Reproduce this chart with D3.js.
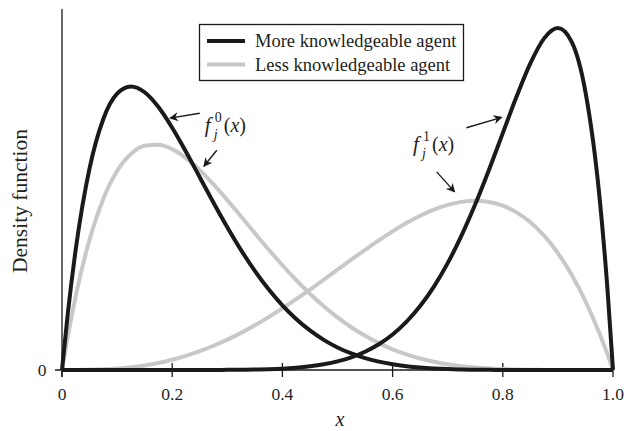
<!DOCTYPE html>
<html>
<head>
  <meta charset="UTF-8" />
  <title>Density functions</title>
  <script src="https://d3js.org/d3.v7.min.js"></script>
  <style>
    body { margin: 0; background: #fff; }
  </style>
</head>
<body>
<div id="chart"></div>

<script>
  // sample points along x
  var xs = [0, 0.01, 0.025, 0.05, 0.075, 0.1, 0.125, 0.15, 0.175, 0.2, 0.225, 0.25, 0.275, 0.3,
    0.325, 0.35, 0.375, 0.4, 0.425, 0.45, 0.475, 0.5, 0.525, 0.55, 0.575, 0.6, 0.625, 0.65,
    0.675, 0.7, 0.725, 0.75, 0.775, 0.8, 0.825, 0.85, 0.875, 0.9, 0.925, 0.95, 0.975, 0.99, 1];

  // more knowledgeable agent, f0 and f1
  var moreF0 = [0, 0.671, 1.508, 2.514, 3.129, 3.444, 3.534, 3.462, 3.278, 3.020, 2.721, 2.403, 2.085, 1.779,
    1.494, 1.235, 1.006, 0.806, 0.636, 0.493, 0.376, 0.281, 0.206, 0.148, 0.104, 0.071, 0.047, 0.030,
    0.019, 0.011, 0.006, 0.003, 0.002, 0.001, 0, 0, 0, 0, 0, 0, 0, 0, 0];
  var moreF1 = [0, 0, 0, 0, 0, 0, 0, 0, 0, 0, 0, 0, 0, 0.002,
    0.003, 0.006, 0.010, 0.017, 0.029, 0.046, 0.071, 0.107, 0.158, 0.228, 0.321, 0.443, 0.600, 0.797,
    1.040, 1.332, 1.675, 2.065, 2.496, 2.953, 3.408, 3.822, 4.134, 4.262, 4.090, 3.466, 2.190, 1.005, 0];

  // less knowledgeable agent, f0 and f1
  var lessF0 = [0, 0.399, 0.925, 1.625, 2.133, 2.480, 2.693, 2.795, 2.809, 2.753, 2.642, 2.492, 2.314, 2.118,
    1.913, 1.706, 1.502, 1.306, 1.122, 0.951, 0.796, 0.656, 0.533, 0.426, 0.335, 0.258, 0.195, 0.143,
    0.103, 0.071, 0.048, 0.031, 0.019, 0.011, 0.006, 0.003, 0.001, 0, 0, 0, 0, 0, 0];
  var lessF1 = [0, 0, 0, 0.002, 0.008, 0.018, 0.034, 0.057, 0.088, 0.128, 0.177, 0.234, 0.302, 0.378,
    0.463, 0.557, 0.659, 0.768, 0.883, 1.002, 1.125, 1.250, 1.375, 1.497, 1.616, 1.728, 1.831, 1.922,
    1.999, 2.058, 2.096, 2.109, 2.095, 2.048, 1.965, 1.842, 1.675, 1.458, 1.187, 0.857, 0.463, 0.194, 0];

  var xTicks = [0, 0.2, 0.4, 0.6, 0.8, 1.0];
  var xTickLabels = ["0", "0.2", "0.4", "0.6", "0.8", "1.0"];
  var legendLabels = ["More knowledgeable agent", "Less knowledgeable agent"];

  // arrows: [x1, y1, x2, y2] in data units, tip at x2,y2
  var arrows = [
    [0.250, 3.20, 0.196, 3.14],
    [0.281, 2.74, 0.2575, 2.54],
    [0.734, 3.02, 0.798, 3.15],
    [0.680, 2.47, 0.7126, 2.22]
  ];
  // function labels: superscript, x, y in data units
  var fLabels = [
    { sup: "0", x: 0.259, y: 2.97 },
    { sup: "1", x: 0.637, y: 2.73 }
  ];

  var black = "#1a1a1a";
  var grey = "#c8c8c8";
  var serif = "'Liberation Serif', 'DejaVu Serif', serif";

  var svg = d3.select("#chart")
    .append("svg")
    .attr("width", 634)
    .attr("height", 431)
    .attr("font-family", serif)
    .style("font-family", serif);

  var xScale = d3.scaleLinear().domain([0, 1]).range([62, 613]);
  var yScale = d3.scaleLinear().domain([0, 4.5]).range([370, 9]);

  // axes lines
  svg.append("line")
    .attr("x1", xScale(0)).attr("x2", xScale(0))
    .attr("y1", yScale(4.5)).attr("y2", yScale(0) + 7)
    .attr("stroke", black).attr("stroke-width", 1.3);
  svg.append("line")
    .attr("x1", xScale(0) - 7).attr("x2", xScale(1))
    .attr("y1", yScale(0)).attr("y2", yScale(0))
    .attr("stroke", black).attr("stroke-width", 1.3);

  // x ticks cross the axis
  var xt = svg.append("g").selectAll("g")
    .data(xTicks)
    .enter()
    .append("g")
    .attr("transform", d => "translate(" + xScale(d) + "," + yScale(0) + ")");
  xt.append("line")
    .attr("y1", -7).attr("y2", 7)
    .attr("stroke", black).attr("stroke-width", 1.3);
  xt.append("text")
    .attr("y", 30)
    .attr("text-anchor", "middle")
    .attr("fill", "#231f20")
    .style("font-size", "17.5px")
    .text((d, i) => xTickLabels[i]);

  // y tick label
  svg.append("text")
    .attr("x", 42).attr("y", yScale(0))
    .attr("dy", "0.35em")
    .attr("text-anchor", "middle")
    .attr("fill", "#231f20")
    .style("font-size", "17.5px")
    .text("0");

  // axis titles
  svg.append("text")
    .attr("x", 340).attr("y", 426)
    .attr("text-anchor", "middle")
    .attr("fill", "#231f20")
    .style("font-size", "20px")
    .style("font-style", "italic")
    .text("x");
  svg.append("text")
    .attr("transform", "translate(27,201) rotate(-90)")
    .attr("text-anchor", "middle")
    .attr("fill", "#231f20")
    .style("font-size", "21.5px")
    .text("Density function");

  // curves, grey first so black sits on top
  var line = d3.line()
    .x((d, i) => xScale(xs[i]))
    .y(d => yScale(d))
    .curve(d3.curveMonotoneX);

  [[lessF0, grey], [lessF1, grey], [moreF0, black], [moreF1, black]].forEach(function (s) {
    svg.append("path")
      .datum(s[0])
      .attr("d", line)
      .attr("fill", "none")
      .attr("stroke", s[1])
      .attr("stroke-width", 4)
      .attr("stroke-linejoin", "round");
  });

  // legend
  var legend = svg.append("g");
  legend.append("rect")
    .attr("x", 199.5).attr("y", 24.5)
    .attr("width", 264).attr("height", 56)
    .attr("fill", "#fff")
    .attr("stroke", black).attr("stroke-width", 1.3);
  legendLabels.forEach(function (lab, i) {
    var ly = 41 + i * 23.5;
    legend.append("line")
      .attr("x1", 207).attr("x2", 245)
      .attr("y1", ly).attr("y2", ly)
      .attr("stroke", i == 0 ? black : grey)
      .attr("stroke-width", 4);
    legend.append("text")
      .attr("x", 255).attr("y", ly)
      .attr("dy", "0.35em")
      .attr("fill", "#231f20")
      .style("font-size", "18.5px")
      .text(lab);
  });

  // arrow head marker
  svg.append("defs").append("marker")
    .attr("id", "head")
    .attr("viewBox", "0 0 10 10")
    .attr("refX", 9).attr("refY", 5)
    .attr("markerWidth", 9).attr("markerHeight", 9)
    .attr("markerUnits", "userSpaceOnUse")
    .attr("orient", "auto")
    .append("path")
    .attr("d", "M0,0 L10,5 L0,10 L3,5 Z")
    .attr("fill", black);

  svg.selectAll(".arrow")
    .data(arrows)
    .enter()
    .append("line")
    .attr("class", "arrow")
    .attr("x1", d => xScale(d[0])).attr("y1", d => yScale(d[1]))
    .attr("x2", d => xScale(d[2])).attr("y2", d => yScale(d[3]))
    .attr("stroke", black).attr("stroke-width", 1.4)
    .attr("marker-end", "url(#head)");

  // f_j^k(x) labels
  fLabels.forEach(function (f) {
    var px = xScale(f.x), py = yScale(f.y);
    var g = svg.append("g").attr("transform", "translate(" + px + "," + py + ")").attr("fill", "#231f20");
    g.append("text").style("font-size", "21px").style("font-style", "italic").text("f");
    g.append("text").attr("x", 10).attr("y", -10).style("font-size", "14px").text(f.sup);
    g.append("text").attr("x", 9).attr("y", 7).style("font-size", "14px").style("font-style", "italic").text("j");
    var t = g.append("text").attr("x", 19).style("font-size", "20px");
    t.append("tspan").text("(");
    t.append("tspan").style("font-style", "italic").text("x");
    t.append("tspan").text(")");
  });
</script>
</body>
</html>
